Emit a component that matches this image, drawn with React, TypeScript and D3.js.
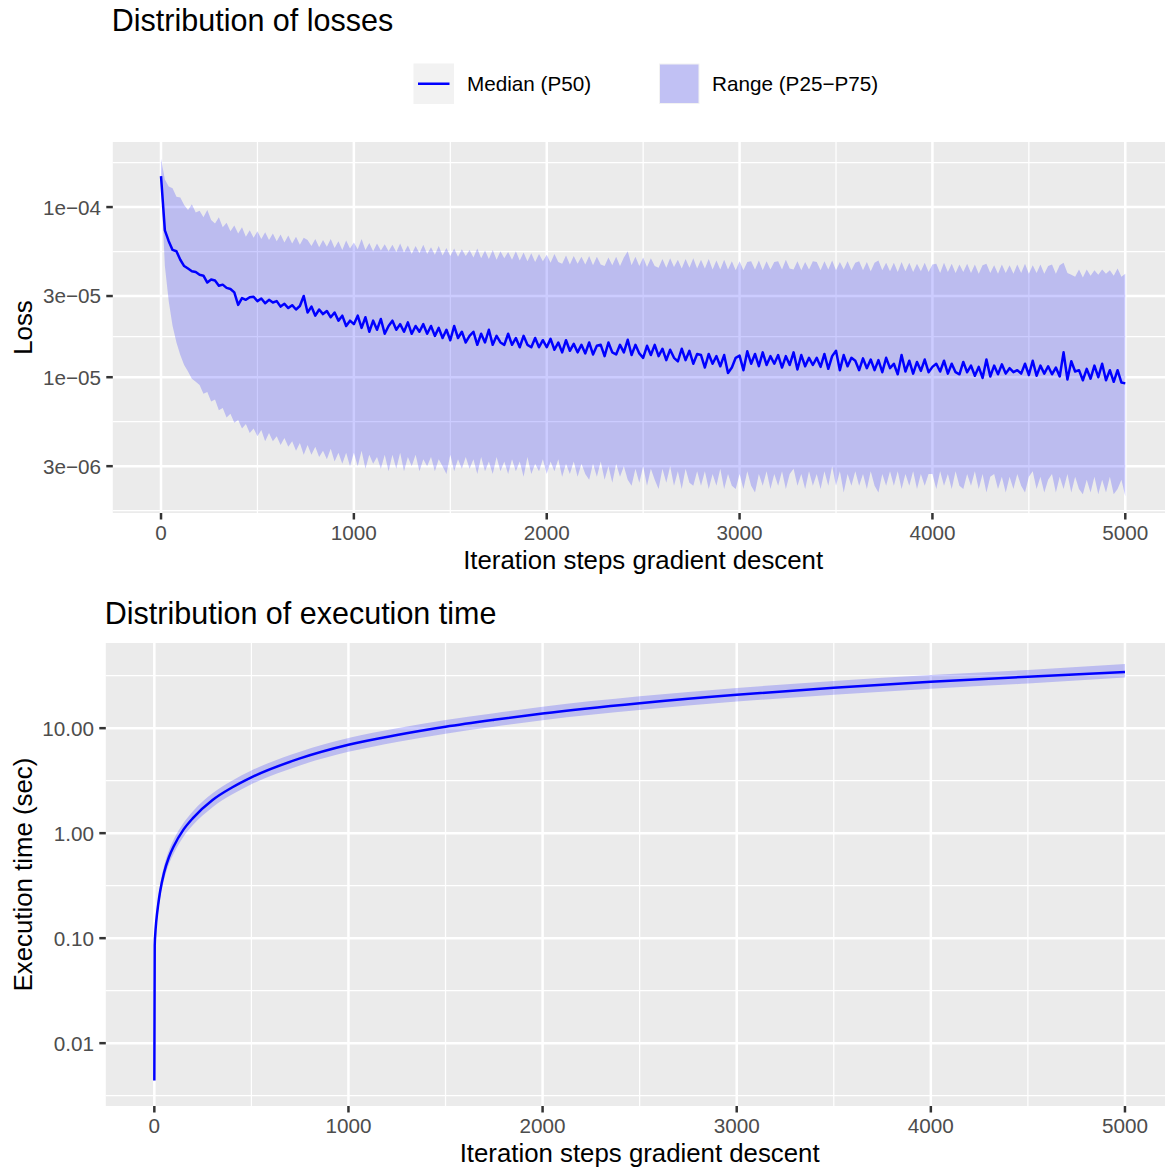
import React, { useEffect, useRef } from "react";
import * as d3 from "d3";

const FONT = "'Liberation Sans', Arial, Helvetica, sans-serif";

// Loss percentiles, one value every 20 iteration steps (units of 1e-5)
const lossP50 = [
  15.2, 7.3, 6.3, 5.6, 5.5, 4.9, 4.5, 4.35, 4.2, 4.15,
  4.0, 3.95, 3.6, 3.75, 3.7, 3.45, 3.5, 3.35, 3.3, 3.15,
  2.66, 2.92, 2.85, 2.95, 2.97, 2.8, 2.9, 2.72, 2.85, 2.75,
  2.8, 2.6, 2.7, 2.55, 2.65, 2.5, 2.62, 3.0, 2.4, 2.6,
  2.3, 2.5, 2.35, 2.45, 2.25, 2.4, 2.15, 2.3, 2.0, 2.15,
  2.05, 2.3, 1.95, 2.25, 1.85, 2.15, 1.9, 2.2, 1.8, 2.0,
  2.15, 1.9, 2.05, 1.85, 2.1, 1.8, 2.0, 1.85, 2.05, 1.8,
  2.0, 1.75, 1.95, 1.7, 1.9, 1.65, 2.0, 1.7, 1.85, 1.6,
  1.75, 1.85, 1.55, 1.8, 1.6, 1.9, 1.55, 1.75, 1.6, 1.55,
  1.8, 1.55, 1.7, 1.5, 1.75, 1.55, 1.5, 1.7, 1.5, 1.65,
  1.5, 1.68, 1.45, 1.6, 1.4, 1.65, 1.43, 1.57, 1.4, 1.55,
  1.38, 1.6, 1.36, 1.53, 1.55, 1.33, 1.6, 1.4, 1.36, 1.55,
  1.4, 1.66, 1.35, 1.55, 1.38, 1.3, 1.53, 1.35, 1.55, 1.33,
  1.47, 1.26, 1.45, 1.3, 1.24, 1.47, 1.26, 1.43, 1.2, 1.37,
  1.35, 1.14, 1.37, 1.2, 1.33, 1.16, 1.35, 1.06, 1.14, 1.3,
  1.34, 1.1, 1.42, 1.2, 1.37, 1.16, 1.4, 1.18, 1.33, 1.2,
  1.35, 1.14, 1.33, 1.18, 1.4, 1.11, 1.35, 1.16, 1.3, 1.18,
  1.3, 1.15, 1.37, 1.12, 1.33, 1.43, 1.1, 1.35, 1.16, 1.3,
  1.25, 1.1, 1.29, 1.13, 1.27, 1.1, 1.26, 1.07, 1.3, 1.13,
  1.2, 1.04, 1.35, 1.08, 1.25, 1.05, 1.23, 1.09, 1.27, 1.07,
  1.15, 1.2, 1.08, 1.25, 1.05, 1.2, 1.07, 1.04, 1.23, 1.07,
  1.17, 1.02, 1.15, 0.99, 1.27, 1.01, 1.17, 1.04, 1.19, 1.05,
  1.13, 1.07, 1.1, 1.05, 1.2, 1.03, 1.25, 1.02, 1.17, 1.05,
  1.16, 1.04, 1.14, 1.01, 1.4, 0.97, 1.24, 1.08, 1.1, 0.96,
  1.12, 0.98, 1.17, 1.0, 1.2, 0.96, 1.1, 0.94, 1.1, 0.93,
  0.92,
];

const lossP75 = [
  19.2, 14.5, 13.2, 12.9, 11.5, 11.4, 10.3, 9.6, 10.4, 9.3,
  9.5, 8.7, 9.6, 8.4, 8.0, 8.7, 7.6, 8.1, 7.2, 7.8,
  7.0, 7.6, 6.7, 7.3, 6.6, 7.2, 6.5, 7.1, 6.4, 7.0,
  6.3, 6.9, 6.2, 6.8, 6.1, 6.7, 6.0, 6.6, 6.4, 5.9,
  6.5, 5.8, 6.4, 5.85, 6.5, 5.75, 6.3, 5.6, 6.35, 5.7,
  6.2, 5.65, 6.5, 5.6, 6.15, 5.5, 6.1, 5.55, 6.05, 5.5,
  6.0, 5.45, 6.1, 5.4, 5.95, 5.3, 5.9, 5.35, 6.0, 5.3,
  5.8, 5.25, 5.9, 5.2, 5.75, 5.15, 5.7, 5.1, 5.65, 5.15,
  5.6, 5.05, 5.7, 5.0, 5.55, 4.95, 5.6, 4.9, 5.5, 5.0,
  5.45, 4.9, 5.5, 4.85, 5.4, 4.8, 5.35, 4.75, 5.3, 4.8,
  5.25, 4.7, 5.3, 4.75, 4.65, 5.2, 4.6, 5.15, 4.65, 5.1,
  4.6, 5.15, 4.55, 5.1, 4.6, 4.5, 5.05, 4.55, 5.1, 4.5,
  5.05, 5.5, 4.55, 5.1, 4.5, 5.05, 4.45, 5.0, 4.5, 4.4,
  4.95, 4.4, 5.0, 4.45, 4.9, 4.35, 4.95, 4.4, 5.0, 4.35,
  4.9, 4.35, 4.95, 4.3, 4.85, 4.3, 4.9, 4.3, 4.8, 4.25,
  4.8, 4.25, 4.75, 4.8, 4.3, 4.85, 4.25, 4.8, 4.3, 4.75,
  4.8, 4.3, 4.9, 4.35, 4.3, 4.8, 4.25, 4.75, 4.3, 4.8,
  4.75, 4.25, 4.8, 4.3, 4.85, 4.25, 4.75, 4.3, 4.8, 4.25,
  4.7, 4.8, 4.25, 4.75, 4.2, 4.7, 4.85, 4.25, 4.7, 4.2,
  4.7, 4.15, 4.75, 4.2, 4.7, 4.15, 4.65, 4.2, 4.7, 4.15,
  4.6, 4.65, 4.1, 4.7, 4.15, 4.65, 4.1, 4.6, 4.15, 4.65,
  4.1, 4.6, 4.05, 4.55, 4.65, 4.1, 4.55, 4.05, 4.6, 4.1,
  4.55, 4.05, 4.6, 4.1, 4.65, 4.05, 4.55, 4.1, 4.6, 4.05,
  4.5, 4.6, 4.05, 4.55, 4.7, 4.1, 4.0, 3.9, 4.3, 3.85,
  4.3, 3.95, 4.25, 4.0, 4.3, 4.05, 4.25, 3.95, 4.35, 3.9,
  4.05,
];

const lossP25 = [
  14.0, 4.5, 2.8, 2.0, 1.6, 1.35, 1.18, 1.08, 0.98, 0.94,
  0.9, 0.8, 0.82, 0.72, 0.74, 0.64, 0.66, 0.58, 0.61, 0.54,
  0.56, 0.5, 0.53, 0.47, 0.5, 0.45, 0.49, 0.42, 0.47, 0.42,
  0.45, 0.4, 0.44, 0.39, 0.42, 0.37, 0.41, 0.35, 0.4, 0.35,
  0.39, 0.34, 0.37, 0.33, 0.38, 0.32, 0.36, 0.31, 0.36, 0.3,
  0.36, 0.3, 0.37, 0.29, 0.35, 0.31, 0.34, 0.29, 0.35, 0.28,
  0.35, 0.29, 0.36, 0.28, 0.34, 0.3, 0.35, 0.28, 0.33, 0.3,
  0.34, 0.28, 0.33, 0.3, 0.27, 0.35, 0.28, 0.33, 0.29, 0.34,
  0.29, 0.33, 0.27, 0.34, 0.28, 0.32, 0.27, 0.34, 0.28, 0.32,
  0.27, 0.33, 0.28, 0.32, 0.26, 0.34, 0.27, 0.31, 0.28, 0.33,
  0.27, 0.32, 0.28, 0.33, 0.26, 0.31, 0.27, 0.32, 0.26, 0.31,
  0.27, 0.25, 0.31, 0.26, 0.32, 0.25, 0.3, 0.24, 0.31, 0.26,
  0.3, 0.25, 0.23, 0.29, 0.24, 0.3, 0.23, 0.29, 0.25, 0.22,
  0.29, 0.24, 0.3, 0.23, 0.28, 0.22, 0.29, 0.24, 0.23, 0.28,
  0.23, 0.28, 0.22, 0.27, 0.23, 0.29, 0.22, 0.27, 0.23, 0.22,
  0.27, 0.22, 0.28, 0.23, 0.21, 0.27, 0.23, 0.28, 0.22, 0.27,
  0.23, 0.28, 0.22, 0.27, 0.29, 0.23, 0.27, 0.22, 0.28, 0.23,
  0.27, 0.22, 0.28, 0.23, 0.3, 0.23, 0.28, 0.21, 0.27, 0.23,
  0.28, 0.23, 0.27, 0.22, 0.28, 0.23, 0.21, 0.27, 0.23, 0.28,
  0.23, 0.28, 0.22, 0.27, 0.23, 0.28, 0.22, 0.27, 0.23, 0.27,
  0.27, 0.22, 0.28, 0.23, 0.27, 0.22, 0.28, 0.23, 0.22, 0.27,
  0.23, 0.28, 0.22, 0.27, 0.21, 0.26, 0.27, 0.22, 0.26, 0.21,
  0.26, 0.22, 0.27, 0.23, 0.21, 0.26, 0.28, 0.22, 0.26, 0.21,
  0.25, 0.27, 0.21, 0.26, 0.22, 0.27, 0.21, 0.26, 0.22, 0.205,
  0.25, 0.21, 0.26, 0.205, 0.25, 0.21, 0.26, 0.205, 0.22, 0.25,
  0.2,
];

const lossSteps = lossP50.map((_, i) => i * 20);

// Execution time percentiles (seconds)
const timeSteps = [0, 2, 5, 10, 20, 30, 50, 75, 100, 150, 200, 300, 400, 500, 750, 1000, 1250, 1500, 1750, 2000, 2500, 3000, 3500, 4000, 4500, 5000];
const timeP50 = [0.0044, 0.085, 0.11, 0.145, 0.21, 0.28, 0.42, 0.59, 0.75, 1.08, 1.4, 2.07, 2.72, 3.4, 5.15, 6.95, 8.6, 10.3, 12.0, 13.8, 17.3, 20.8, 24.2, 27.6, 30.9, 34.2];
const timeP25 = [0.004, 0.079, 0.1, 0.128, 0.183, 0.242, 0.36, 0.505, 0.64, 0.925, 1.2, 1.77, 2.33, 2.92, 4.42, 5.95, 7.4, 8.85, 10.3, 11.9, 14.9, 17.9, 20.8, 23.7, 26.6, 30.3];
const timeP75 = [0.0047, 0.092, 0.122, 0.165, 0.243, 0.325, 0.487, 0.685, 0.87, 1.25, 1.63, 2.4, 3.16, 3.95, 5.97, 8.07, 9.98, 11.95, 13.9, 16.0, 20.1, 24.1, 28.1, 32.0, 35.9, 40.8];

const xTicks = [0, 1000, 2000, 3000, 4000, 5000];
const lossTicks = [3e-6, 1e-5, 3e-5, 1e-4];
const lossTickLabels = ["3e\u221206", "1e\u221205", "3e\u221205", "1e\u221204"];
const timeTicks = [0.01, 0.1, 1, 10];
const timeTickLabels = ["0.01", "0.10", "1.00", "10.00"];

const legendLabels = ["Median (P50)", "Range (P25\u2212P75)"];

type Panel = {
  left: number;
  top: number;
  bottom: number;
  title: string;
  titleY: number;
  xTitleY: number;
  yTitle: string;
  steps: number[];
  lo: number[];
  mid: number[];
  hi: number[];
  yTicks: number[];
  yLabels: string[];
  smooth: boolean;
};

const RIGHT = 1173.5;

function drawPanel(svg: d3.Selection<SVGSVGElement, unknown, null, undefined>, p: Panel) {
  const g = svg.append("g");

  // ggplot-like 5% expansion
  const [xmin, xmax] = d3.extent(p.steps) as [number, number];
  const xpad = (xmax - xmin) * 0.05;
  const x = d3.scaleLinear().domain([xmin - xpad, xmax + xpad]).range([p.left, RIGHT]);

  const llo = Math.log10(d3.min(p.lo) as number);
  const lhi = Math.log10(d3.max(p.hi) as number);
  const ypad = (lhi - llo) * 0.05;
  const y = d3.scaleLog().domain([10 ** (llo - ypad), 10 ** (lhi + ypad)]).range([p.bottom, p.top]);

  g.append("rect")
    .attr("x", p.left).attr("y", p.top)
    .attr("width", RIGHT - p.left).attr("height", p.bottom - p.top)
    .attr("fill", "#EBEBEB");

  // minor breaks: midpoints between majors in transformed space
  const lb = p.yTicks.map((v) => Math.log10(v));
  const bd = lb[1] - lb[0];
  const ext = [lb[0] - bd, ...lb, lb[lb.length - 1] + bd];
  const yMinor = d3.range(ext.length - 1).map((i) => 10 ** ((ext[i] + ext[i + 1]) / 2))
    .filter((v) => v > y.domain()[0] && v < y.domain()[1]);
  const xMinor = d3.range(xTicks.length - 1).map((i) => (xTicks[i] + xTicks[i + 1]) / 2);

  g.selectAll(".ymin").data(yMinor).enter().append("line")
    .attr("x1", p.left).attr("x2", RIGHT)
    .attr("y1", (d) => y(d)).attr("y2", (d) => y(d))
    .attr("stroke", "#fff").attr("stroke-width", 1.25);
  g.selectAll(".xmin").data(xMinor).enter().append("line")
    .attr("x1", (d) => x(d)).attr("x2", (d) => x(d))
    .attr("y1", p.top).attr("y2", p.bottom)
    .attr("stroke", "#fff").attr("stroke-width", 1.25);
  g.selectAll(".ymaj").data(p.yTicks).enter().append("line")
    .attr("x1", p.left).attr("x2", RIGHT)
    .attr("y1", (d) => y(d)).attr("y2", (d) => y(d))
    .attr("stroke", "#fff").attr("stroke-width", 2.5);
  g.selectAll(".xmaj").data(xTicks).enter().append("line")
    .attr("x1", (d) => x(d)).attr("x2", (d) => x(d))
    .attr("y1", p.top).attr("y2", p.bottom)
    .attr("stroke", "#fff").attr("stroke-width", 2.5);

  const idx = d3.range(p.steps.length);
  const curve = p.smooth ? d3.curveMonotoneX : d3.curveLinear;

  const area = d3.area<number>()
    .x((i) => x(p.steps[i]))
    .y0((i) => y(p.lo[i]))
    .y1((i) => y(p.hi[i]))
    .curve(curve);
  g.append("path").attr("d", area(idx)).attr("fill", "blue").attr("fill-opacity", 0.2);

  const line = d3.line<number>()
    .x((i) => x(p.steps[i]))
    .y((i) => y(p.mid[i]))
    .curve(curve);
  g.append("path").attr("d", line(idx))
    .attr("fill", "none").attr("stroke", "blue").attr("stroke-width", 2.5)
    .attr("stroke-linejoin", "round");

  // axes
  const tickLen = 6.5;
  g.selectAll(".xt").data(xTicks).enter().append("line")
    .attr("x1", (d) => x(d)).attr("x2", (d) => x(d))
    .attr("y1", p.bottom).attr("y2", p.bottom + tickLen)
    .attr("stroke", "#333").attr("stroke-width", 2.5);
  g.selectAll(".xl").data(xTicks).enter().append("text")
    .attr("x", (d) => x(d)).attr("y", p.bottom + tickLen + 5.2 + 15.2)
    .attr("text-anchor", "middle").attr("font-size", 20.7).attr("fill", "#4D4D4D")
    .text((d) => String(d));

  g.selectAll(".yt").data(p.yTicks).enter().append("line")
    .attr("x1", p.left - tickLen).attr("x2", p.left)
    .attr("y1", (d) => y(d)).attr("y2", (d) => y(d))
    .attr("stroke", "#333").attr("stroke-width", 2.5);
  g.selectAll(".yl").data(p.yTicks).enter().append("text")
    .attr("x", p.left - tickLen - 5.2).attr("y", (d) => y(d))
    .attr("dy", "0.36em")
    .attr("text-anchor", "end").attr("font-size", 20.7).attr("fill", "#4D4D4D")
    .text((_, i) => p.yLabels[i]);

  g.append("text")
    .attr("x", (p.left + RIGHT) / 2).attr("y", p.xTitleY)
    .attr("text-anchor", "middle").attr("font-size", 25.8).attr("fill", "#000")
    .text("Iteration steps gradient descent");

  g.append("text")
    .attr("transform", `translate(32,${(p.top + p.bottom) / 2}) rotate(-90)`)
    .attr("text-anchor", "middle").attr("font-size", 25.8).attr("fill", "#000")
    .text(p.yTitle);

  g.append("text")
    .attr("x", p.left - 1).attr("y", p.titleY)
    .attr("font-size", 30.5).attr("fill", "#000")
    .text(p.title);
}

function drawLegend(svg: d3.Selection<SVGSVGElement, unknown, null, undefined>) {
  const g = svg.append("g");
  const keyX = [413.5, 659];
  const textX = [467, 712];
  const top = 63.5;
  const size = 40.5;

  g.selectAll(".key").data(keyX).enter().append("rect")
    .attr("x", (d) => d).attr("y", top)
    .attr("width", size).attr("height", size)
    .attr("fill", "#F2F2F2");

  g.append("line")
    .attr("x1", keyX[0] + 4.5).attr("x2", keyX[0] + size - 4.5)
    .attr("y1", top + size / 2).attr("y2", top + size / 2)
    .attr("stroke", "blue").attr("stroke-width", 2.5);

  g.append("rect")
    .attr("x", keyX[1] + 1).attr("y", top + 1)
    .attr("width", size - 2).attr("height", size - 2)
    .attr("fill", "blue").attr("fill-opacity", 0.2);

  g.selectAll(".lt").data(legendLabels).enter().append("text")
    .attr("x", (_, i) => textX[i]).attr("y", top + size / 2)
    .attr("dy", "0.36em")
    .attr("font-size", 20.7).attr("fill", "#000")
    .text((d) => d);
}

export default function App() {
  const ref = useRef<SVGSVGElement>(null);

  useEffect(() => {
    const svg = d3.select(ref.current as SVGSVGElement);
    svg.selectAll("*").remove();

    drawPanel(svg, {
      left: 112.8, top: 142, bottom: 513,
      title: "Distribution of losses", titleY: 31, xTitleY: 569,
      yTitle: "Loss",
      steps: lossSteps,
      lo: lossP25.map((v) => v * 1e-5),
      mid: lossP50.map((v) => v * 1e-5),
      hi: lossP75.map((v) => v * 1e-5),
      yTicks: lossTicks, yLabels: lossTickLabels,
      smooth: false,
    });

    drawPanel(svg, {
      left: 105.8, top: 643, bottom: 1106,
      title: "Distribution of execution time", titleY: 624, xTitleY: 1162,
      yTitle: "Execution time (sec)",
      steps: timeSteps,
      lo: timeP25, mid: timeP50, hi: timeP75,
      yTicks: timeTicks, yLabels: timeTickLabels,
      smooth: true,
    });

    drawLegend(svg);
  }, []);

  return (
    <svg
      ref={ref}
      width={1165}
      height={1172}
      style={{ position: "absolute", left: 0, top: 0, background: "#fff", fontFamily: FONT }}
    />
  );
}
